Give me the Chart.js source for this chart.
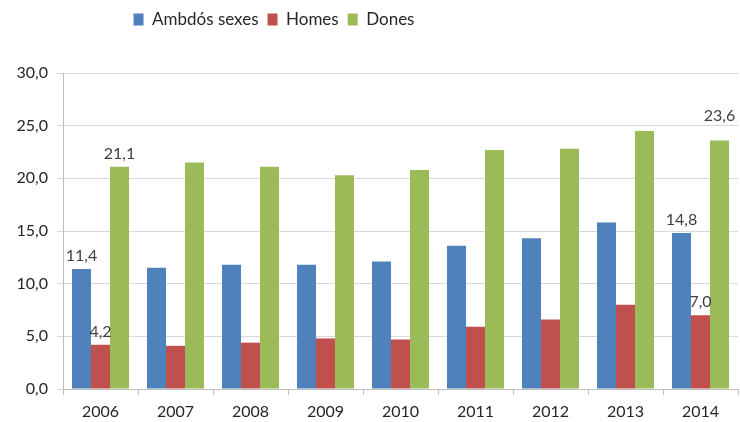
<!DOCTYPE html>
<html>
<head>
<meta charset="utf-8">
<script src="https://cdn.jsdelivr.net/npm/chart.js@4/dist/chart.umd.min.js"></script>
<style>
  html, body { margin: 0; padding: 0; background: #fff; }
  #wrap { width: 740px; height: 422px; }
</style>
</head>
<body>
<div id="wrap"><canvas id="chart" width="740" height="422"></canvas></div>
<script>
const years = ['2006', '2007', '2008', '2009', '2010', '2011', '2012', '2013', '2014'];
const ambdos = [11.4, 11.5, 11.8, 11.8, 12.1, 13.6, 14.3, 15.8, 14.8];
const homes = [4.2, 4.1, 4.4, 4.8, 4.7, 5.9, 6.6, 8.0, 7.0];
const dones = [21.1, 21.5, 21.1, 20.3, 20.8, 22.7, 22.8, 24.5, 23.6];
const yTicks = [0, 5, 10, 15, 20, 25, 30];
const labeledYears = ['2006', '2014'];

const fmt = (v) => v.toFixed(1).replace('.', ',');
const FONT = 'Lato, "Open Sans", sans-serif';

// value labels above the bars of the first and last year
const valueLabels = {
    id: 'valueLabels',
    afterDatasetsDraw(chart) {
        const ctx = chart.ctx;
        ctx.save();
        ctx.font = '16px ' + FONT;
        ctx.fillStyle = '#404040';
        ctx.textAlign = 'center';
        ctx.textBaseline = 'bottom';
        chart.data.datasets.forEach((ds, di) => {
            chart.getDatasetMeta(di).data.forEach((bar, i) => {
                if (!labeledYears.includes(years[i])) return;
                const extra = (di === 2 && i === years.length - 1) ? 12 : 0;
                ctx.fillText(fmt(ds.data[i]), bar.x, bar.y - 5 - extra);
            });
        });
        ctx.restore();
    },
};

// legend sits left of centre and above the reserved top padding
const legendShift = {
    id: 'legendShift',
    afterLayout(chart) {
        const lg = chart.legend;
        lg.left -= 95; lg.right -= 95;
        lg.top -= 35; lg.bottom -= 35;
    },
};

new Chart(document.getElementById('chart'), {
    type: 'bar',
    data: {
        labels: years,
        datasets: [
            { label: 'Ambdós sexes', data: ambdos, backgroundColor: '#4F81BD' },
            { label: 'Homes', data: homes, backgroundColor: '#C0504D' },
            { label: 'Dones', data: dones, backgroundColor: '#9BBB59' },
        ],
    },
    options: {
        responsive: false,
        animation: false,
        layout: { padding: { top: 37, right: 2, left: 0, bottom: 0 } },
        datasets: { bar: { categoryPercentage: 0.76, barPercentage: 1.0 } },
        plugins: {
            tooltip: { enabled: false },
            legend: {
                position: 'top',
                labels: {
                    font: { family: FONT, size: 17 },
                    color: '#262626',
                    boxWidth: 10,
                    boxHeight: 12,
                    padding: 9,
                },
            },
        },
        scales: {
            x: {
                offset: true,
                grid: { offset: true, drawOnChartArea: false, tickLength: 6, color: '#bfbfbf' },
                border: { color: '#bfbfbf' },
                ticks: { font: { family: FONT, size: 16 }, color: '#262626', padding: 7 },
                afterFit: (s) => { s.height = 33; },
            },
            y: {
                min: 0,
                max: 30,
                afterBuildTicks: (s) => { s.ticks = yTicks.map((v) => ({ value: v })); },
                grid: { color: '#d9d9d9', tickLength: 6 },
                border: { color: '#bfbfbf' },
                ticks: { font: { family: FONT, size: 16 }, color: '#262626', padding: 9, callback: (v) => fmt(v) },
                afterFit: (s) => { s.width = 63; },
            },
        },
    },
    plugins: [valueLabels, legendShift],
});
</script>
</body>
</html>
